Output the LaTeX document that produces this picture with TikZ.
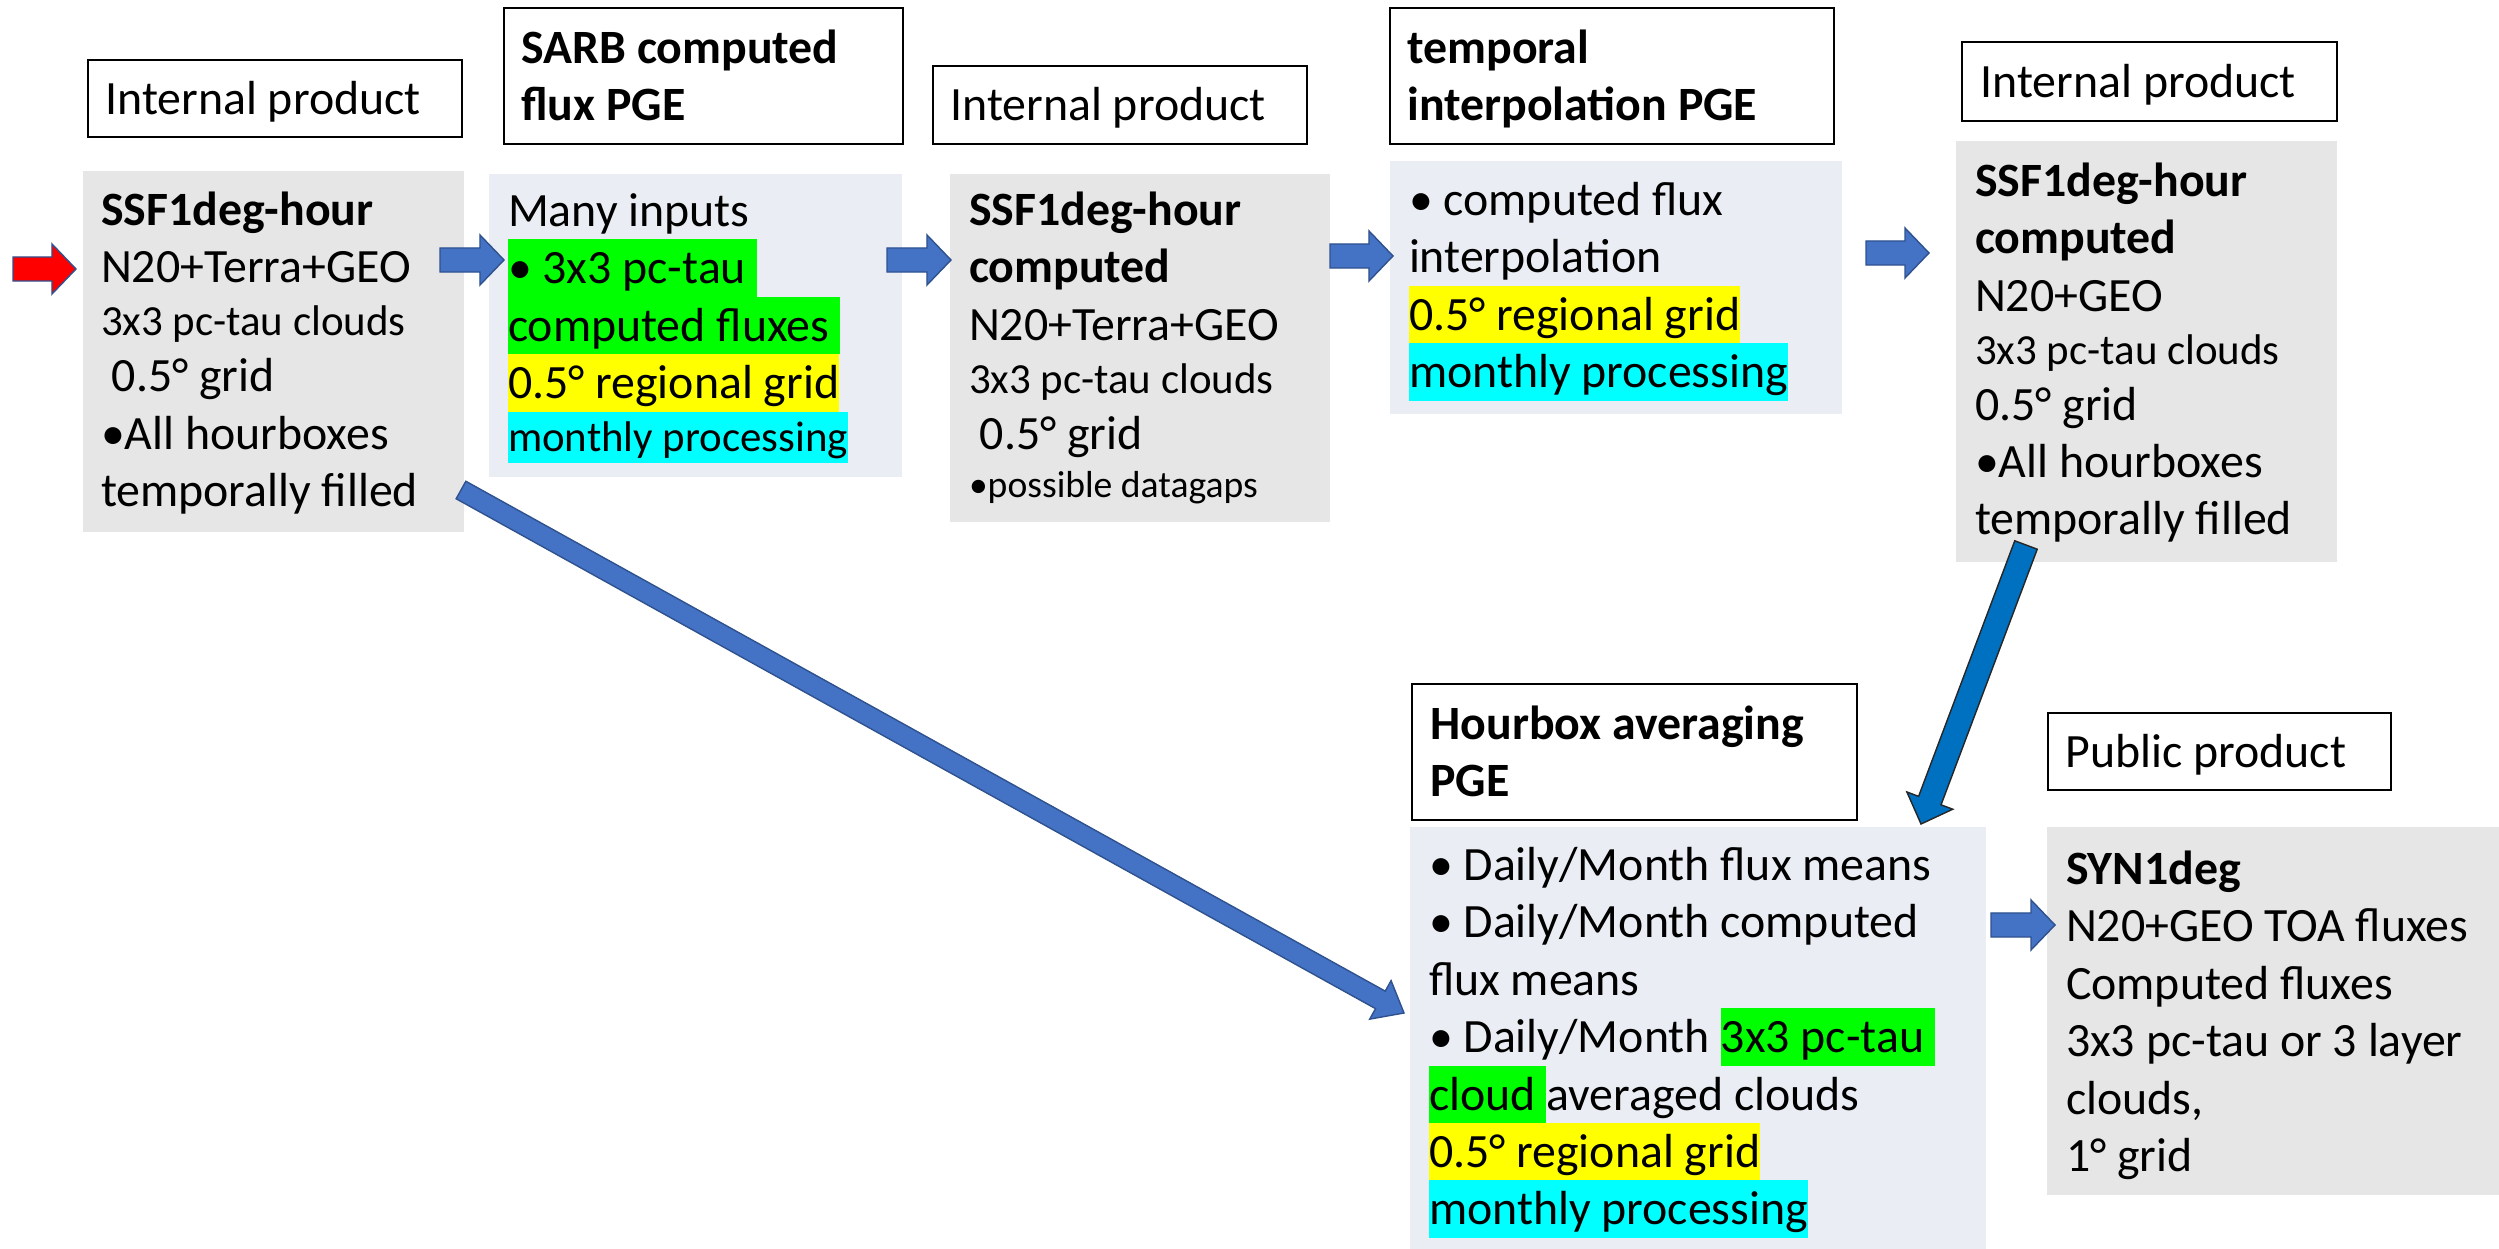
\documentclass[tikz,border=0pt]{standalone}
\usepackage{fontspec}
\setmainfont{Carlito}
\usetikzlibrary{calc,fit}

\definecolor{boxgray}{HTML}{E7E6E6}
\definecolor{boxblue}{HTML}{EAEDF3}
\definecolor{hlgreen}{HTML}{00FF00}
\definecolor{hlyellow}{HTML}{FFFF00}
\definecolor{hlcyan}{HTML}{00FFFF}
\definecolor{arrowblue}{HTML}{4472C4}
\definecolor{arrowdeep}{HTML}{0070C0}
\definecolor{arrowline}{HTML}{2F528F}

% sizes: one unit of the picture is 0.01cm
\newcommand{\mainsz}{\fontsize{13.6pt}{0pt}\selectfont}
\newcommand{\smallsz}{\fontsize{12.2pt}{0pt}\selectfont}
\newcommand{\tinysz}{\fontsize{10.7pt}{0pt}\selectfont}
\newcommand{\boxfont}{\mainsz\lineskip=0pt\lineskiplimit=0pt}
\newcommand{\st}{\rule[-0.27em]{0pt}{1.2em}}
\newcommand{\hl}[2]{{\setlength{\fboxsep}{0pt}\colorbox{#1}{\st#2}}}

% block arrow from #2 to #3
\def\shafthw{0.12cm}\def\headhw{0.25cm}\def\headlen{0.24cm}
\newcommand{\fatarrow}[3][]{%
  \coordinate (fa-h) at ($(#3)!\headlen!(#2)$);
  \filldraw[blockarr,#1] ($(#2)!\shafthw!90:(#3)$) -- ($(fa-h)!\shafthw!90:(#3)$)
    -- ($(fa-h)!\headhw!90:(#3)$) -- (#3) -- ($(fa-h)!\headhw!-90:(#3)$)
    -- ($(fa-h)!\shafthw!-90:(#3)$) -- ($(#2)!\shafthw!-90:(#3)$) -- cycle;}

\begin{document}
\begin{tikzpicture}[x=0.01cm,y=-0.01cm,
    gbox/.style={fill=boxgray,inner sep=0pt},
    bbox/.style={fill=boxblue,inner sep=0pt},
    lbl/.style={draw=black,line width=0.7pt,fill=white,inner sep=0pt},
    txt/.style={inner sep=0pt,anchor=north west,align=left,font=\boxfont},
    blockarr/.style={fill=arrowblue,draw=arrowline,line width=0.4pt}]
\useasboundingbox (0,0) rectangle (2499,1249);

% title boxes
\node[lbl, fit={(88,60) (462,137)}] (int1) {};
\node[lbl, fit={(504,8) (903,144)}] (sarbl) {};
\node[lbl, fit={(933,66) (1307,144)}] (int2) {};
\node[lbl, fit={(1390,8) (1834,144)}] (tintl) {};
\node[lbl, fit={(1962,42) (2337,121)}] (int3) {};
\node[lbl, fit={(1412,684) (1857,820)}] (hbl) {};
\node[lbl, fit={(2048,713) (2391,790)}] (publ) {};

\node[txt, anchor=west] (int1-t) at ($(int1.west)+(18,0)$) {\st Internal product};
\node[txt, anchor=west, font=\boxfont\bfseries] (sarbl-t) at ($(sarbl.west)+(18,0)$) {\st SARB computed\\\st flux PGE};
\node[txt, anchor=west] (int2-t) at ($(int2.west)+(18,0)$) {\st Internal product};
\node[txt, anchor=west, font=\boxfont\bfseries] (tintl-t) at ($(tintl.west)+(18,0)$) {\st temporal\\\st interpolation PGE};
\node[txt, anchor=west] (int3-t) at ($(int3.west)+(19,0)$) {\st Internal product};
\node[txt, anchor=west, font=\boxfont\bfseries] (hbl-t) at ($(hbl.west)+(19,0)$) {\st Hourbox averaging\\\st PGE};
\node[txt, anchor=west] (publ-t) at ($(publ.west)+(18,0)$) {\st Public product};

% product and PGE boxes
\node[gbox, fit={(83,171) (464,532)}] (ssfin) {};
\node[bbox, fit={(489,174) (902,477)}] (sarb) {};
\node[gbox, fit={(950,174) (1330,522)}] (ssfcmp) {};
\node[bbox, fit={(1390,161) (1842,414)}] (tinterp) {};
\node[gbox, fit={(1956,141) (2337,562)}] (ssfout) {};
\node[bbox, fit={(1410,827) (1986,1249)}] (hbavg) {};
\node[gbox, fit={(2047,827) (2499,1195)}] (syn) {};

\node[txt] (ssfin-t) at ($(ssfin.north west)+(18,10)$) {%
  \st\textbf{SSF1deg-hour}\\
  \st N20+Terra+GEO\\
  {\smallsz\st 3x3 pc-tau clouds}\\
  \st\ 0.5° grid\\
  \st •All hourboxes\\
  \st temporally filled};
\node[txt] (sarb-t) at ($(sarb.north west)+(19,8)$) {%
  \st Many inputs\\
  \hl{hlgreen}{• 3x3 pc-tau }\\
  \hl{hlgreen}{computed fluxes }\\
  \hl{hlyellow}{0.5° regional grid}\\
  {\smallsz\hl{hlcyan}{monthly processing}}};
\node[txt] (ssfcmp-t) at ($(ssfcmp.north west)+(19,7)$) {%
  \st\textbf{SSF1deg-hour}\\
  \st\textbf{computed}\\
  \st N20+Terra+GEO\\
  {\smallsz\st 3x3 pc-tau clouds}\\
  \st\ 0.5° grid\\
  {\tinysz\st •possible datagaps}};
\node[txt] (tinterp-t) at ($(tinterp.north west)+(19,10)$) {%
  \st • computed flux\\
  \st interpolation\\
  \hl{hlyellow}{0.5° regional grid}\\
  \hl{hlcyan}{monthly processing}};
\node[txt] (ssfout-t) at ($(ssfout.north west)+(19,11)$) {%
  \st\textbf{SSF1deg-hour}\\
  \st\textbf{computed}\\
  \st N20+GEO\\
  {\smallsz\st 3x3 pc-tau clouds}\\
  \st 0.5° grid\\
  \st •All hourboxes\\
  \st temporally filled};
\node[txt] (hbavg-t) at ($(hbavg.north west)+(19,9)$) {%
  \st • Daily/Month flux means\\
  \st • Daily/Month computed\\
  \st flux means\\
  \st • Daily/Month \hl{hlgreen}{3x3 pc-tau }\\
  \hl{hlgreen}{cloud }averaged clouds\\
  \hl{hlyellow}{0.5° regional grid}\\
  \hl{hlcyan}{monthly processing}};
\node[txt] (syn-t) at ($(syn.north west)+(19,13)$) {%
  \st\textbf{SYN1deg}\\
  \st N20+GEO TOA fluxes\\
  \st Computed fluxes\\
  \st 3x3 pc-tau or 3 layer\\
  \st clouds,\\
  \st 1° grid};

% arrow ends
\coordinate (in0) at (13,269);    \coordinate (in1) at (76,269);
\coordinate (a1s) at (440,260);   \coordinate (a1e) at (504,260);
\coordinate (a2s) at (887,260);   \coordinate (a2e) at (951,260);
\coordinate (a3s) at (1330,256);  \coordinate (a3e) at (1393,256);
\coordinate (a4s) at (1866,253);  \coordinate (a4e) at (1929,253);
\coordinate (a6s) at (1991,925);  \coordinate (a6e) at (2055,925);
\coordinate (a5s) at (2026,545);  \coordinate (a5e) at (1921,824);
\coordinate (a7s) at (461,490);   \coordinate (a7e) at (1404,1013);

\fatarrow[fill=red]{in0}{in1}
\fatarrow{a1s}{a1e}
\fatarrow{a2s}{a2e}
\fatarrow{a3s}{a3e}
\fatarrow{a4s}{a4e}
\fatarrow{a6s}{a6e}
\def\headhw{0.245cm}\def\headlen{0.25cm}
\fatarrow[fill=arrowdeep,draw=black!85]{a5s}{a5e}
\def\shafthw{0.10cm}\def\headhw{0.22cm}\def\headlen{0.27cm}
\fatarrow{a7s}{a7e}
\end{tikzpicture}
\end{document}
